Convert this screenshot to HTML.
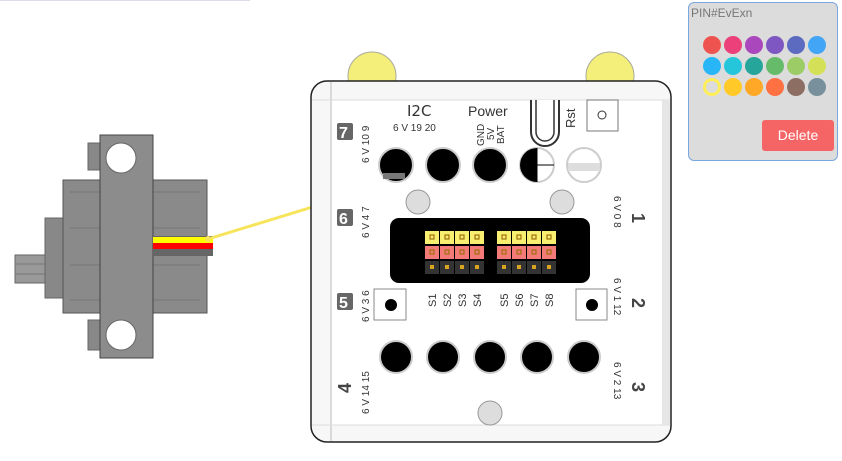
<!DOCTYPE html>
<html><head><style>
body{margin:0;width:842px;height:461px;background:#fff;overflow:hidden;position:relative;font-family:"Liberation Sans",sans-serif}
.panel{position:absolute;left:688px;top:2px;width:148px;height:157px;border:1px solid #7aa7e0;border-radius:6px;background:#dcdcdc}
.panel .t{position:absolute;left:2px;top:3px;font-size:12px;color:#777}
.del{position:absolute;left:73px;top:117px;width:72px;height:31px;background:#f66566;border-radius:3px;color:#fff;font-size:14px;text-align:center;line-height:31px}
</style></head><body>
<div style="position:absolute;left:0;top:0;width:250px;height:1px;background:#dde"></div>
<svg width="842" height="461" style="position:absolute;left:0;top:0" font-family="Liberation Sans, sans-serif">
<!-- servo -->
<rect x="15" y="255" width="32" height="28" fill="#999" stroke="#666"/>
<line x1="15" y1="264" x2="46" y2="264" stroke="#777"/><line x1="15" y1="274" x2="46" y2="274" stroke="#777"/>
<rect x="45" y="218" width="20" height="80" fill="#888" stroke="#666"/>
<rect x="63" y="180" width="144" height="133" fill="#8a8a8a" stroke="#555"/>
<line x1="70" y1="192" x2="200" y2="192" stroke="#777"/><line x1="70" y1="228" x2="200" y2="228" stroke="#777"/><line x1="70" y1="265" x2="200" y2="265" stroke="#777"/><line x1="70" y1="300" x2="200" y2="300" stroke="#777"/>
<rect x="88" y="143" width="14" height="27" fill="#888" stroke="#666"/>
<rect x="88" y="320" width="14" height="30" fill="#888" stroke="#666"/>
<rect x="100" y="135" width="53" height="223" fill="#8c8c8c" stroke="#444"/>
<circle cx="121" cy="158" r="15" fill="#fff" stroke="#666"/>
<circle cx="121" cy="335" r="15" fill="#fff" stroke="#666"/>
<rect x="153" y="236" width="60" height="20" fill="#666"/>
<rect x="153" y="237" width="60" height="6" fill="#ff0"/>
<rect x="153" y="243" width="60" height="6" fill="#f00"/>
<line x1="208" y1="239" x2="345" y2="197" stroke="#f6e45a" stroke-width="3"/>
<circle cx="208" cy="239" r="3" fill="#f6e45a"/>
<!-- board -->
<circle cx="372" cy="76" r="24" fill="#f4ef7a" stroke="#aa9"/>
<circle cx="610" cy="76" r="24" fill="#f4ef7a" stroke="#aa9"/>
<rect x="311" y="81" width="360" height="361" rx="16" fill="#f7f7f7" stroke="#222" stroke-width="1.5"/>
<rect x="331" y="100" width="331" height="325" fill="#fff"/>
<line x1="331" y1="82" x2="331" y2="441" stroke="#bbb"/>
<line x1="312" y1="100" x2="670" y2="100" stroke="#ddd"/>
<line x1="312" y1="425" x2="670" y2="425" stroke="#ddd"/>
<rect x="662" y="100" width="8" height="325" fill="#e6e6e6"/>
<!-- switch & rst -->
<path d="M531 100 L531 132 A14 14 0 0 0 559 132 L559 100" fill="#fff" stroke="#333" stroke-width="2"/>
<path d="M536 100 L536 132 A9 9 0 0 0 554 132 L554 100" fill="none" stroke="#333" stroke-width="1.5"/>
<rect x="587" y="100" width="31" height="31" fill="#fff" stroke="#777"/>
<circle cx="602" cy="115" r="4" fill="#fff" stroke="#333"/>
<text x="575" y="128" font-size="13" fill="#333" transform="rotate(-90 575 128)">Rst</text>
<text x="407" y="116" font-size="15" font-family="DejaVu Sans" fill="#333">I2C</text>
<text x="393" y="131" font-size="10" fill="#333">6 V 19 20</text>
<text x="468" y="116" font-size="14" fill="#333">Power</text>
<text x="484" y="146" font-size="10" fill="#333" transform="rotate(-90 484 146)">GND</text>
<text x="494" y="140" font-size="10" fill="#333" transform="rotate(-90 494 140)">5V</text>
<text x="504" y="144" font-size="10" fill="#333" transform="rotate(-90 504 144)">BAT</text>
<g stroke="#ccc" stroke-width="2">
<circle cx="396" cy="165" r="17" fill="#000"/><circle cx="443" cy="165" r="17" fill="#000"/><circle cx="490" cy="165" r="17" fill="#000"/>
<circle cx="537" cy="165" r="17" fill="#fff"/><circle cx="584" cy="165" r="17" fill="#fff"/>
</g>
<path d="M537 148 A17 17 0 0 0 537 182 Z" fill="#000"/>
<line x1="537" y1="148" x2="537" y2="182" stroke="#000"/><line x1="537" y1="165" x2="554" y2="165" stroke="#000"/>
<rect x="568" y="163" width="32" height="8" fill="#ddd"/>
<rect x="383" y="173" width="22" height="6" fill="#777"/>
<g fill="#ddd" stroke="#999"><circle cx="418" cy="202" r="12"/><circle cx="562" cy="202" r="12"/><circle cx="490" cy="413" r="12"/></g>
<!-- header -->
<rect x="390" y="218" width="200" height="65" rx="9" fill="#000"/>
<g>
<rect x="425" y="231" width="14" height="13" fill="#f8ef70"/><rect x="440" y="231" width="14" height="13" fill="#f8ef70"/><rect x="455" y="231" width="14" height="13" fill="#f8ef70"/><rect x="470" y="231" width="14" height="13" fill="#f8ef70"/>
<rect x="497" y="231" width="14" height="13" fill="#f8ef70"/><rect x="512" y="231" width="14" height="13" fill="#f8ef70"/><rect x="527" y="231" width="14" height="13" fill="#f8ef70"/><rect x="542" y="231" width="14" height="13" fill="#f8ef70"/>
<rect x="425" y="246" width="14" height="13" fill="#f47a78"/><rect x="440" y="246" width="14" height="13" fill="#f47a78"/><rect x="455" y="246" width="14" height="13" fill="#f47a78"/><rect x="470" y="246" width="14" height="13" fill="#f47a78"/>
<rect x="497" y="246" width="14" height="13" fill="#f47a78"/><rect x="512" y="246" width="14" height="13" fill="#f47a78"/><rect x="527" y="246" width="14" height="13" fill="#f47a78"/><rect x="542" y="246" width="14" height="13" fill="#f47a78"/>
<rect x="425" y="261" width="14" height="13" fill="#333"/><rect x="440" y="261" width="14" height="13" fill="#333"/><rect x="455" y="261" width="14" height="13" fill="#333"/><rect x="470" y="261" width="14" height="13" fill="#333"/>
<rect x="497" y="261" width="14" height="13" fill="#333"/><rect x="512" y="261" width="14" height="13" fill="#333"/><rect x="527" y="261" width="14" height="13" fill="#333"/><rect x="542" y="261" width="14" height="13" fill="#333"/>
</g>
<g fill="none" stroke="#a07010" stroke-width="1.2">
<rect x="430" y="235" width="4" height="4"/><rect x="445" y="235" width="4" height="4"/><rect x="460" y="235" width="4" height="4"/><rect x="475" y="235" width="4" height="4"/><rect x="502" y="235" width="4" height="4"/><rect x="517" y="235" width="4" height="4"/><rect x="532" y="235" width="4" height="4"/><rect x="547" y="235" width="4" height="4"/>
<rect x="430" y="250" width="4" height="4"/><rect x="445" y="250" width="4" height="4"/><rect x="460" y="250" width="4" height="4"/><rect x="475" y="250" width="4" height="4"/><rect x="502" y="250" width="4" height="4"/><rect x="517" y="250" width="4" height="4"/><rect x="532" y="250" width="4" height="4"/><rect x="547" y="250" width="4" height="4"/>
</g>
<g fill="#d9a520">
<rect x="430" y="265" width="4" height="4"/><rect x="445" y="265" width="4" height="4"/><rect x="460" y="265" width="4" height="4"/><rect x="475" y="265" width="4" height="4"/><rect x="502" y="265" width="4" height="4"/><rect x="517" y="265" width="4" height="4"/><rect x="532" y="265" width="4" height="4"/><rect x="547" y="265" width="4" height="4"/>
</g>
<g font-size="11" fill="#333">
<text x="436" y="307" transform="rotate(-90 436 307)">S1</text><text x="451" y="307" transform="rotate(-90 451 307)">S2</text><text x="466" y="307" transform="rotate(-90 466 307)">S3</text><text x="481" y="307" transform="rotate(-90 481 307)">S4</text>
<text x="508" y="307" transform="rotate(-90 508 307)">S5</text><text x="523" y="307" transform="rotate(-90 523 307)">S6</text><text x="538" y="307" transform="rotate(-90 538 307)">S7</text><text x="553" y="307" transform="rotate(-90 553 307)">S8</text>
</g>
<rect x="374" y="289" width="32" height="31" fill="#fff" stroke="#888"/><circle cx="391" cy="305" r="6" fill="#000"/>
<rect x="576" y="289" width="31" height="31" fill="#fff" stroke="#888"/><circle cx="592" cy="305" r="6" fill="#000"/>
<g fill="#000" stroke="#ccc" stroke-width="2">
<circle cx="396" cy="357" r="16"/><circle cx="443" cy="357" r="16"/><circle cx="490" cy="357" r="16"/><circle cx="537" cy="357" r="16"/><circle cx="584" cy="357" r="16"/>
</g>
<!-- port labels -->
<rect x="337" y="123" width="16" height="17" rx="2" fill="#666"/><text x="339" y="138" font-size="16" font-weight="bold" fill="#fff">7</text>
<rect x="337" y="209" width="16" height="17" rx="2" fill="#666"/><text x="339" y="224" font-size="16" font-weight="bold" fill="#fff">6</text>
<rect x="337" y="293" width="16" height="17" rx="2" fill="#666"/><text x="339" y="308" font-size="16" font-weight="bold" fill="#fff">5</text>
<text x="351" y="393" font-size="18" font-weight="bold" fill="#444" transform="rotate(-90 351 393)">4</text>
<g font-size="10" fill="#333">
<text x="369" y="163" transform="rotate(-90 369 163)">6 V 10 9</text>
<text x="369" y="238" transform="rotate(-90 369 238)">6 V 4 7</text>
<text x="369" y="322" transform="rotate(-90 369 322)">6 V 3 6</text>
<text x="369" y="414" transform="rotate(-90 369 414)">6 V 14 15</text>
<text x="614" y="196" transform="rotate(90 614 196)">6 V 0 8</text>
<text x="614" y="278" transform="rotate(90 614 278)">6 V 1 12</text>
<text x="614" y="362" transform="rotate(90 614 362)">6 V 2 13</text>
</g>
<g font-size="18" font-weight="bold" fill="#444">
<text x="632" y="213" transform="rotate(90 632 213)">1</text>
<text x="632" y="298" transform="rotate(90 632 298)">2</text>
<text x="632" y="382" transform="rotate(90 632 382)">3</text>
</g>
</svg>
<div class="panel"><div class="t">PIN#EvExn</div>
<svg width="148" height="110" style="position:absolute;left:0;top:0">
<g>
<circle cx="23" cy="42" r="9" fill="#ef5350"/><circle cx="44" cy="42" r="9" fill="#ec407a"/><circle cx="65" cy="42" r="9" fill="#ab47bc"/><circle cx="86" cy="42" r="9" fill="#7e57c2"/><circle cx="107" cy="42" r="9" fill="#5c6bc0"/><circle cx="128" cy="42" r="9" fill="#42a5f5"/>
<circle cx="23" cy="63" r="9" fill="#29b6f6"/><circle cx="44" cy="63" r="9" fill="#26c6da"/><circle cx="65" cy="63" r="9" fill="#26a69a"/><circle cx="86" cy="63" r="9" fill="#66bb6a"/><circle cx="107" cy="63" r="9" fill="#9ccc65"/><circle cx="128" cy="63" r="9" fill="#d4e157"/>
<circle cx="23" cy="84" r="7.5" fill="#dcdcdc" stroke="#ffee58" stroke-width="3"/><circle cx="44" cy="84" r="9" fill="#ffca28"/><circle cx="65" cy="84" r="9" fill="#ffa726"/><circle cx="86" cy="84" r="9" fill="#ff7043"/><circle cx="107" cy="84" r="9" fill="#8d6e63"/><circle cx="128" cy="84" r="9" fill="#78909c"/>
</g></svg>
<div class="del">Delete</div></div>
</body></html>
